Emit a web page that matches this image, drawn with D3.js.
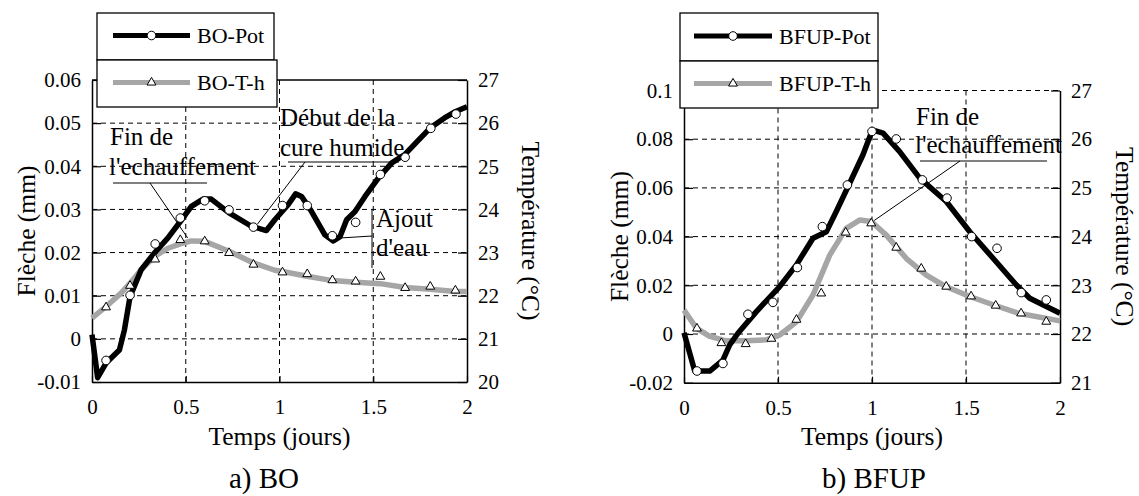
<!DOCTYPE html>
<html><head><meta charset="utf-8">
<script src="https://cdn.jsdelivr.net/npm/d3@7"></script>
<style>
html,body{margin:0;padding:0;background:#fff;}
svg{display:block;}
text{font-family:"Liberation Serif","Times New Roman",serif;fill:#000;}
</style></head>
<body><svg id="c" width="1139" height="496" font-family="Liberation Serif, serif"></svg>
<script>
// ---------- DATA ----------
const xTicks = [0, 0.5, 1, 1.5, 2];
const xTickLabels = ["0", "0.5", "1", "1.5", "2"];

const boYTicks = [-0.01, 0, 0.01, 0.02, 0.03, 0.04, 0.05, 0.06];
const boYLabels = ["-0.01", "0", "0.01", "0.02", "0.03", "0.04", "0.05", "0.06"];
const boTTicks = [20, 21, 22, 23, 24, 25, 26, 27];

const bfupYTicks = [-0.02, 0, 0.02, 0.04, 0.06, 0.08, 0.1];
const bfupYLabels = ["-0.02", "0", "0.02", "0.04", "0.06", "0.08", "0.1"];
const bfupTTicks = [21, 22, 23, 24, 25, 26, 27];

// BO : deflection (mm) line and circle markers
const boPotLine = [[0,0.001],[0.03,-0.009],[0.075,-0.0056],[0.146,-0.0026],[0.173,0.0021],[0.203,0.0098],[0.262,0.016],[0.333,0.0199],[0.405,0.0234],[0.471,0.0272],[0.53,0.0307],[0.592,0.0324],[0.636,0.0324],[0.731,0.0292],[0.85,0.0261],[0.93,0.0251],[0.975,0.0276],[1.046,0.0311],[1.086,0.0336],[1.118,0.033],[1.171,0.0295],[1.242,0.0241],[1.287,0.0227],[1.323,0.0237],[1.358,0.0276],[1.403,0.0295],[1.456,0.033],[1.528,0.0373],[1.599,0.0408],[1.67,0.0428],[1.74,0.046],[1.807,0.049],[1.88,0.0512],[1.94,0.0527],[2.0,0.0538]];
const boPotMarks = [[0.075,-0.005],[0.203,0.0101],[0.337,0.022],[0.471,0.028],[0.601,0.032],[0.731,0.0299],[0.861,0.0259],[1.016,0.0309],[1.148,0.0309],[1.282,0.0239],[1.406,0.027],[1.538,0.0381],[1.67,0.0421],[1.807,0.0488],[1.941,0.0521]];
// BO : temperature (°C) line and triangle markers
const boThLine = [[0,21.48],[0.075,21.75],[0.155,22.06],[0.203,22.29],[0.262,22.6],[0.333,22.91],[0.405,23.1],[0.471,23.2],[0.53,23.27],[0.601,23.26],[0.731,23.03],[0.861,22.76],[0.975,22.59],[1.016,22.56],[1.148,22.45],[1.282,22.35],[1.406,22.31],[1.538,22.28],[1.67,22.19],[1.804,22.15],[1.938,22.1],[2.0,22.1]];
const boThMarks = [[0.075,21.75],[0.203,22.25],[0.337,22.86],[0.471,23.31],[0.601,23.28],[0.731,23.01],[0.861,22.74],[1.016,22.56],[1.148,22.52],[1.282,22.38],[1.406,22.35],[1.538,22.46],[1.67,22.2],[1.804,22.23],[1.938,22.14]];

// BFUP : deflection (mm)
const bfupPotLine = [[0,0.0005],[0.057,-0.0152],[0.137,-0.0152],[0.207,-0.0107],[0.243,-0.0045],[0.287,0.0003],[0.385,0.0092],[0.509,0.0195],[0.598,0.0284],[0.686,0.0393],[0.757,0.042],[0.81,0.0503],[0.881,0.0619],[0.952,0.0736],[1.002,0.0838],[1.059,0.0825],[1.147,0.0749],[1.254,0.064],[1.395,0.0544],[1.52,0.042],[1.644,0.0311],[1.768,0.0201],[1.839,0.0147],[2.0,0.0085]];
const bfupPotMarks = [[0.069,-0.0152],[0.207,-0.0121],[0.34,0.0081],[0.473,0.013],[0.603,0.0273],[0.736,0.0441],[0.869,0.0612],[1.0,0.0832],[1.129,0.0801],[1.268,0.0633],[1.399,0.0558],[1.53,0.04],[1.665,0.0352],[1.794,0.017],[1.927,0.014]];
// BFUP : temperature (°C)
const bfupThLine = [[0,22.49],[0.066,22.12],[0.137,21.95],[0.225,21.86],[0.332,21.86],[0.438,21.88],[0.509,21.98],[0.598,22.25],[0.686,22.8],[0.775,23.62],[0.863,24.17],[0.934,24.34],[0.996,24.31],[1.076,24.03],[1.183,23.55],[1.289,23.21],[1.395,22.97],[1.52,22.77],[1.644,22.6],[1.785,22.42],[2.0,22.27]];
const bfupThMarks = [[0.069,22.13],[0.199,21.83],[0.328,21.81],[0.465,21.92],[0.598,22.31],[0.73,22.85],[0.86,24.1],[0.996,24.29],[1.129,23.79],[1.262,23.36],[1.395,22.99],[1.527,22.79],[1.658,22.6],[1.793,22.44],[1.927,22.27]];

// ---------- DRAW ----------
const svg = d3.select("#c");
const GREY = "#a6a6a6";
const TICK_FS = 21, TITLE_FS = 25.5, LEG_FS = 22, ANN_FS = 25, CAP_FS = 29;

function panel(cfg){
  const g = svg.append("g");
  const x = d3.scaleLinear().domain([0,2]).range([cfg.x0,cfg.x1]);
  const y = d3.scaleLinear().domain(cfg.yDom).range([cfg.y1,cfg.y0]);
  const yT = d3.scaleLinear().domain(cfg.tDom).range([cfg.y1,cfg.y0]);

  // grid
  const grid = g.append("g").attr("stroke","#000").attr("stroke-width",1).attr("stroke-dasharray","5,4");
  cfg.yTicks.forEach(v=>{
    if (v===cfg.yDom[0]) return;
    if (v===cfg.yDom[1] && cfg.solidTop) return;
    grid.append("line").attr("x1",cfg.x0).attr("x2",cfg.x1).attr("y1",y(v)).attr("y2",y(v));
  });
  xTicks.slice(1,-1).forEach(v=>{
    grid.append("line").attr("x1",x(v)).attr("x2",x(v)).attr("y1",cfg.y0).attr("y2",cfg.y1);
  });

  // axes
  const ax = g.append("g").attr("transform",`translate(${cfg.x0},0)`)
    .call(d3.axisLeft(y).tickValues(cfg.yTicks).tickFormat((d,i)=>cfg.yLabels[i]).tickSize(-9).tickSizeOuter(0).tickPadding(11));
  const axR = g.append("g").attr("transform",`translate(${cfg.x1},0)`)
    .call(d3.axisRight(yT).tickValues(cfg.tTicks).tickFormat(d3.format("d")).tickSize(-9).tickSizeOuter(0).tickPadding(11));
  const axB = g.append("g").attr("transform",`translate(0,${cfg.y1})`)
    .call(d3.axisBottom(x).tickValues(xTicks).tickFormat((d,i)=>xTickLabels[i]).tickSize(-6).tickSizeOuter(0).tickPadding(17));
  [ax,axR,axB].forEach(a=>{
    a.attr("font-family","Liberation Serif, serif");
    a.selectAll("text").style("font-size",TICK_FS+"px").style("font-family",'"Liberation Serif",serif').attr("fill","#000");
    a.selectAll("line").attr("stroke","#000").attr("stroke-width",1.2);
    a.select(".domain").attr("stroke","#000").attr("stroke-width",1.5);
  });
  if (cfg.solidTop){
    g.append("line").attr("x1",cfg.x0).attr("x2",cfg.x1).attr("y1",cfg.y0).attr("y2",cfg.y0).attr("stroke","#000").attr("stroke-width",1.5);
  }

  // series
  const lineM = d3.line().x(d=>x(d[0])).y(d=>y(d[1]));
  const lineT = d3.line().x(d=>x(d[0])).y(d=>yT(d[1]));
  g.append("path").datum(cfg.thLine).attr("d",lineT).attr("fill","none").attr("stroke",GREY).attr("stroke-width",5.5).attr("stroke-linejoin","round");
  g.append("path").datum(cfg.potLine).attr("d",lineM).attr("fill","none").attr("stroke","#000").attr("stroke-width",5.5).attr("stroke-linejoin","round");
  const tri = d3.symbol().type(d3.symbolTriangle).size(34);
  g.append("g").selectAll("path").data(cfg.thMarks).join("path")
    .attr("d",tri).attr("transform",d=>`translate(${x(d[0])},${yT(d[1])+0.8})`)
    .attr("fill","#fff").attr("stroke","#000").attr("stroke-width",1);
  g.append("g").selectAll("circle").data(cfg.potMarks).join("circle")
    .attr("cx",d=>x(d[0])).attr("cy",d=>y(d[1])).attr("r",4.3)
    .attr("fill","#fff").attr("stroke","#000").attr("stroke-width",1);

  // annotations
  cfg.annotations(g, x, y, yT);

  // legend
  const L = cfg.legend;
  const lg = g.append("g");
  [[L.y0,L.ym,L.w1,"#000",cfg.names[0],"circle"],[L.ym,L.y1,L.w2,GREY,cfg.names[1],"tri"]].forEach(r=>{
    lg.append("rect").attr("x",L.x0).attr("y",r[0]).attr("width",r[2]).attr("height",r[1]-r[0])
      .attr("fill","#fff").attr("stroke","#000").attr("stroke-width",1.3);
    const cy = (r[0]+r[1])/2 - 1;
    lg.append("line").attr("x1",L.lx0).attr("x2",L.lx1).attr("y1",cy).attr("y2",cy).attr("stroke",r[3]).attr("stroke-width",5);
    const mx = (L.lx0+L.lx1)/2;
    if (r[5]==="circle") lg.append("circle").attr("cx",mx).attr("cy",cy).attr("r",4.3).attr("fill","#fff").attr("stroke","#000");
    else lg.append("path").attr("d",tri).attr("transform",`translate(${mx},${cy})`).attr("fill","#fff").attr("stroke","#000");
    lg.append("text").attr("x",L.tx).attr("y",cy+7.5).style("font-size",LEG_FS+"px").text(r[4]);
  });

  // titles
  g.append("text").attr("transform",`translate(${cfg.lTitleX},${(cfg.y0+cfg.y1)/2}) rotate(-90)`)
    .attr("text-anchor","middle").style("font-size",TITLE_FS+"px").text("Flèche (mm)");
  g.append("text").attr("transform",`translate(${cfg.rTitleX},${(cfg.y0+cfg.y1)/2}) rotate(90)`)
    .attr("text-anchor","middle").style("font-size",TITLE_FS+"px").text("Température (°C)");
  g.append("text").attr("x",(cfg.x0+cfg.x1)/2).attr("y",445).attr("text-anchor","middle")
    .style("font-size",TITLE_FS+"px").text("Temps (jours)");
  g.append("text").attr("x",cfg.capX).attr("y",488).attr("text-anchor","middle")
    .style("font-size",CAP_FS+"px").text(cfg.caption);
}

function ann(g, lines){
  lines.forEach(l=>{
    if (l.t) g.append("text").attr("x",l.x).attr("y",l.y).style("font-size",ANN_FS+"px").text(l.t);
    else g.append("line").attr("x1",l.x1).attr("y1",l.y1).attr("x2",l.x2).attr("y2",l.y2).attr("stroke","#000").attr("stroke-width",1);
  });
}

panel({
  x0:92, x1:467, y0:80, y1:382,
  yDom:[-0.01,0.06], tDom:[20,27],
  yTicks:boYTicks, yLabels:boYLabels, tTicks:boTTicks, solidTop:true,
  potLine:boPotLine, potMarks:boPotMarks, thLine:boThLine, thMarks:boThMarks,
  names:["BO-Pot","BO-T-h"],
  legend:{x0:97, y0:13, ym:60, y1:107, w1:177, w2:180, lx0:113, lx1:190, tx:197},
  lTitleX:35, rTitleX:522, capX:264, caption:"a) BO",
  annotations:(g,x,y,yT)=>{
    ann(g,[
      {t:"Fin de", x:110, y:145},
      {t:"l'echauffement", x:109, y:175},
      {x1:113,y1:183,x2:207,y2:183},
      {x1:150,y1:183,x2:x(0.51),y2:yT(23.27)-3},
      {t:"Début de la", x:280, y:126},
      {t:"cure humide", x:280, y:156},
      {x1:288,y1:162,x2:399,y2:162},
      {x1:305,y1:162,x2:x(0.861)+4,y2:y(0.0259)-3},
      {t:"Ajout", x:376, y:227},
      {t:"d'eau", x:376, y:256},
      {x1:372,y1:210,x2:372,y2:268},
      {x1:x(1.28)+8,y1:238,x2:372,y2:236}
    ]);
  }
});

panel({
  x0:684, x1:1060, y0:90.5, y1:382.7,
  yDom:[-0.02,0.1], tDom:[21,27],
  yTicks:bfupYTicks, yLabels:bfupYLabels, tTicks:bfupTTicks, solidTop:false,
  potLine:bfupPotLine, potMarks:bfupPotMarks, thLine:bfupThLine, thMarks:bfupThMarks,
  names:["BFUP-Pot","BFUP-T-h"],
  legend:{x0:680, y0:13, ym:61, y1:108, w1:198, w2:198, lx0:694, lx1:772, tx:779},
  lTitleX:628, rTitleX:1116, capX:874, caption:"b) BFUP",
  annotations:(g,x,y,yT)=>{
    ann(g,[
      {t:"Fin de", x:916, y:125},
      {t:"l'echauffement", x:915, y:153},
      {x1:920,y1:161,x2:1047,y2:161},
      {x1:960,y1:161,x2:x(0.996)+3,y2:yT(24.29)-2}
    ]);
  }
});
</script></body></html>
